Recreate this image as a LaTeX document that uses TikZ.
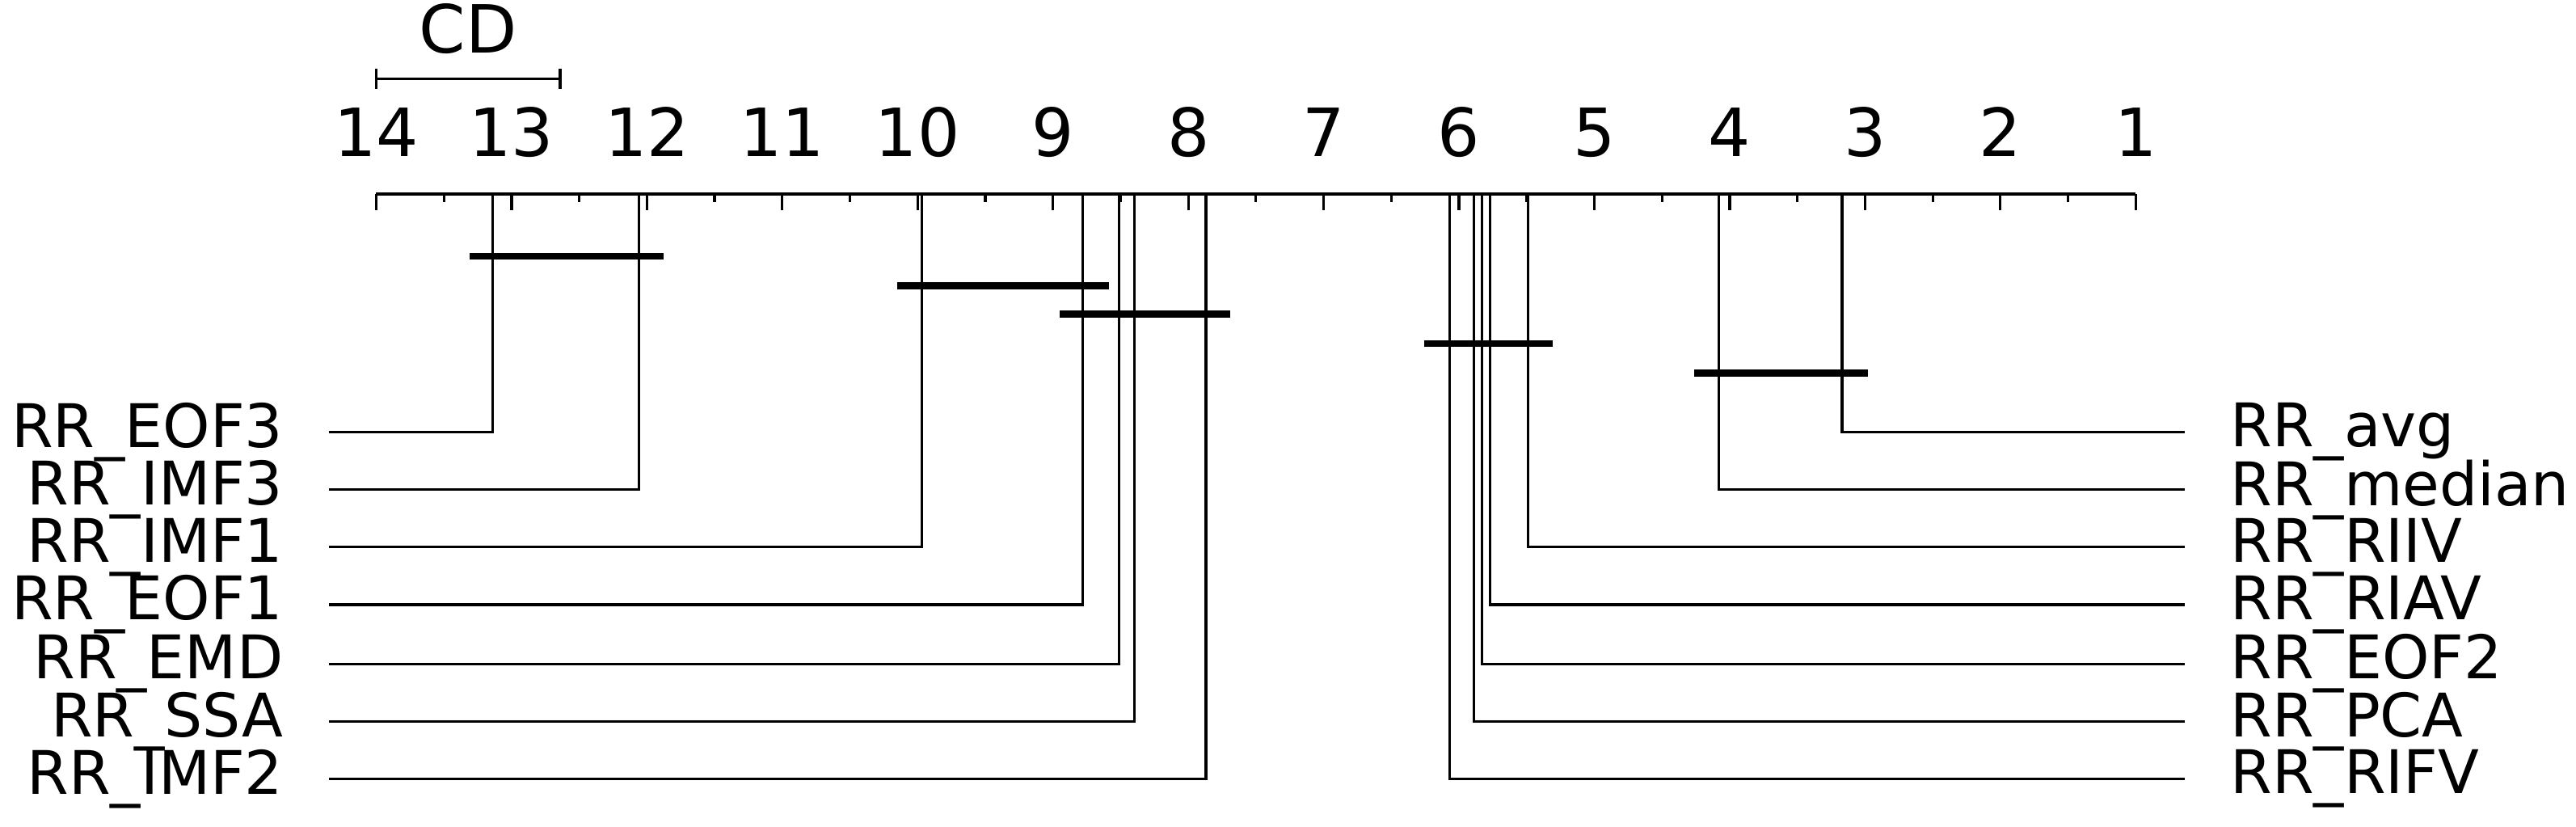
\documentclass[tikz,border=0pt]{standalone}
\usepackage{fontspec}
\setmainfont{DejaVu Sans}
\begin{document}
\begin{tikzpicture}[x=0.01cm,y=-0.01cm,
  thinln/.style={line width=0.45pt,black},
  bar/.style={line width=1.2pt,black},
  lab/.style={font=\fontsize{10.4}{11}\selectfont,inner sep=0pt},
  tick/.style={font=\fontsize{11.5}{12}\selectfont,inner sep=0pt}]
\useasboundingbox (0,0) rectangle (1568,503.3);
\def\rx#1{229+(14-#1)*82.385}
% axis
\draw[thinln,line width=0.5pt] (229,118) coordinate (a0) -- (1300,118) coordinate (a1);
\foreach \r in {1,...,14}{
  \draw[thinln] ({\rx{\r}},118) -- ({\rx{\r}},128);
  \node[tick,anchor=base] (t\r) at ({\rx{\r}},95) {\r};
}
\foreach \r in {1.5,2.5,...,13.5}{
  \draw[thinln] ({\rx{\r}},118) -- ({\rx{\r}},123);
}
% CD
\coordinate (cd0) at (229,48); \coordinate (cd1) at (341,48);
\draw[thinln] (cd0) -- (cd1);
\draw[thinln] (229,42) -- (229,54); \draw[thinln] (341,42) -- (341,54);
\node[tick,anchor=base] (cd) at (285,32) {CD};
% left
\foreach \r/\y/\n/\t in {13.14/263/l1/RR\_EOF3,12.06/298/l2/RR\_IMF3,9.97/333/l3/RR\_IMF1,8.78/368/l4/RR\_EOF1,8.51/404/l5/RR\_EMD,8.40/439/l6/RR\_SSA,7.87/474/l7/RR\_IMF2}{
  \node[lab,anchor=east] (\n) at (173,\y) {\t};
  \draw[thinln] ({\rx{\r}},118) |- (200,\y);
}
% right
\foreach \r/\y/\n/\t in {3.17/263/r1/RR\_avg,4.08/298/r2/RR\_median,5.49/333/r3/RR\_RIIV,5.77/368/r4/RR\_RIAV,5.83/404/r5/RR\_EOF2,5.89/439/r6/RR\_PCA,6.07/474/r7/RR\_RIFV}{
  \node[lab,anchor=west] (\n) at (1357,\y) {\t};
  \draw[thinln] ({\rx{\r}},118) |- (1330,\y);
}
% cliques
\draw[bar] (286,156) -- (404,156);
\draw[bar] (546,174) -- (675,174);
\draw[bar] (645,191) -- (749,191);
\draw[bar] (867,209) -- (945,209);
\draw[bar] (1031,227) -- (1137,227);
\end{tikzpicture}
\end{document}
